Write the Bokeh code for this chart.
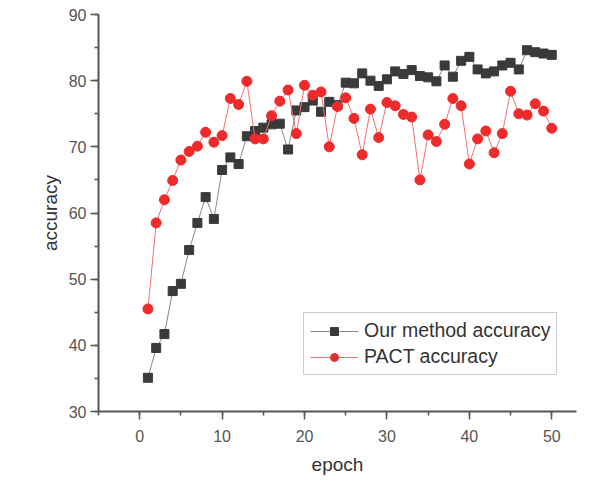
from bokeh.plotting import figure
from bokeh.models import SingleIntervalTicker, Legend, LegendItem, Range1d
from bokeh.embed import file_html
from bokeh.resources import INLINE

epochs = list(range(1, 51))
ours = [35.1, 39.6, 41.7, 48.2, 49.3, 54.4, 58.5, 62.4, 59.1, 66.5,
        68.4, 67.4, 71.6, 72.4, 72.9, 73.4, 73.5, 69.6, 75.5, 76.0,
        77.0, 75.3, 76.8, 76.3, 79.7, 79.6, 81.1, 80.0, 79.2, 80.2,
        81.4, 81.0, 81.6, 80.7, 80.5, 79.9, 82.3, 80.6, 83.0, 83.6,
        81.7, 81.1, 81.4, 82.3, 82.7, 81.7, 84.6, 84.3, 84.1, 83.9]
pact = [45.5, 58.5, 62.0, 64.9, 68.0, 69.3, 70.1, 72.2, 70.7, 71.7,
        77.3, 76.4, 79.9, 71.2, 71.2, 74.7, 76.9, 78.6, 72.0, 79.3,
        77.8, 78.3, 70.0, 76.1, 77.4, 74.3, 68.8, 75.7, 71.4, 76.7,
        76.2, 74.9, 74.5, 65.0, 71.8, 70.8, 73.4, 77.3, 76.2, 67.4,
        71.2, 72.4, 69.1, 72.0, 78.4, 75.0, 74.8, 76.5, 75.4, 72.8]
labels = ["Our method accuracy", "PACT accuracy"]

FONT = "Liberation Sans"

p = figure(width=588, height=477, output_backend="svg", toolbar_location=None,
           x_range=Range1d(-5, 53), y_range=Range1d(30, 90),
           min_border_left=98, min_border_right=12, min_border_top=14, min_border_bottom=65)
p.outline_line_color = None
p.xgrid.visible = False
p.ygrid.visible = False

for ax in (p.xaxis[0], p.yaxis[0]):
    ax.ticker = SingleIntervalTicker(interval=10, num_minor_ticks=2)
    ax.axis_line_color = "#555555"
    ax.axis_line_width = 2
    ax.major_tick_line_color = "#555555"
    ax.major_tick_line_width = 1.5
    ax.minor_tick_line_color = "#555555"
    ax.minor_tick_line_width = 1.5
    ax.major_tick_out = 8
    ax.major_tick_in = 0
    ax.minor_tick_out = 4
    ax.minor_tick_in = 0
    ax.major_label_text_font = FONT
    ax.major_label_text_font_size = "16px"
    ax.major_label_text_color = "#555555"
    ax.axis_label_text_font = FONT
    ax.axis_label_text_font_size = "19px"
    ax.axis_label_text_font_style = "normal"
    ax.axis_label_text_color = "#333333"

p.xaxis.axis_label = "epoch"
p.yaxis.axis_label = "accuracy"
p.xaxis.major_label_standoff = 10
p.yaxis.major_label_standoff = 4
p.xaxis.axis_label_standoff = 9
p.yaxis.axis_label_standoff = 5

l1 = p.line(epochs, ours, line_color="#888888", line_width=1)
s1 = p.scatter(epochs, ours, marker="square", size=9, fill_color="#3a3a3a", line_color="#3a3a3a")
l2 = p.line(epochs, pact, line_color="#f07070", line_width=1)
s2 = p.scatter(epochs, pact, marker="circle", size=10, fill_color="#ee2a2a", line_color="#ee2a2a")

legend = Legend(items=[LegendItem(label=labels[0], renderers=[l1, s1]),
                       LegendItem(label=labels[1], renderers=[l2, s2])],
                location=(205, 36))
legend.label_text_font = FONT
legend.label_text_font_size = "19.5px"
legend.label_text_color = "#333333"
legend.glyph_width = 48
legend.glyph_height = 20
legend.label_height = 20
legend.label_standoff = 6
legend.spacing = 3
legend.padding = 6
legend.margin = 0
legend.border_line_color = "#999999"
legend.border_line_width = 1
legend.background_fill_alpha = 1
p.add_layout(legend, "center")

open("out.html", "w").write(file_html(p, INLINE))
